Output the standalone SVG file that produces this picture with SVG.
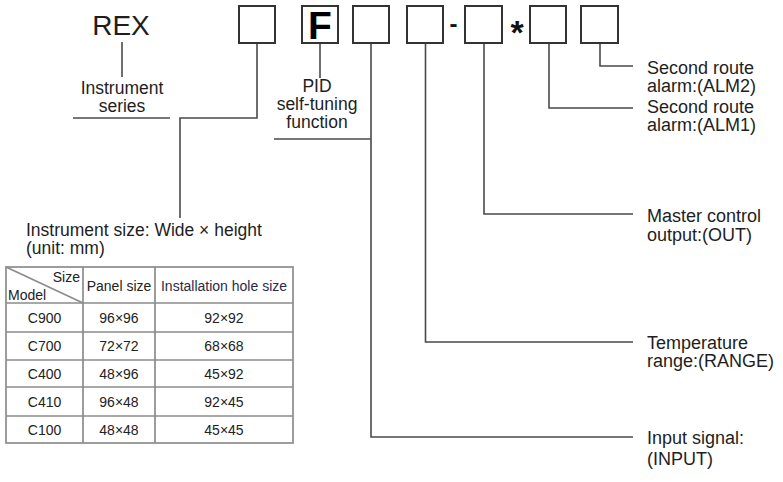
<svg xmlns="http://www.w3.org/2000/svg" width="783" height="482" viewBox="0 0 783 482">
<style>
.t{font-family:"Liberation Sans",Arial,sans-serif;font-size:17.5px;fill:#1e1e1e}
.r{font-size:18px}
.m{text-anchor:middle}
.box{fill:#fff;stroke:#333;stroke-width:2}
.c{fill:none;stroke:#4a4a4a;stroke-width:1.6}
.tb{fill:none;stroke:#8c8c8c;stroke-width:1.7}
.tt{font-family:"Liberation Sans",Arial,sans-serif;font-size:14px;fill:#222;text-anchor:middle}
</style>
<rect width="783" height="482" fill="#fff"/>
<g id="connectors">
<path class="c" d="M122 42V77"/>
<path class="c" d="M73 118H170"/>
<path class="c" d="M257 43V118H180V218"/>
<path class="c" d="M320 43V78"/>
<path class="c" d="M274 139H371"/>
<path class="c" d="M371 43V437H633"/>
<path class="c" d="M425.5 43V342H633"/>
<path class="c" d="M484 43V214H633"/>
<path class="c" d="M549 43V108H633"/>
<path class="c" d="M600 43V66H633"/>
</g>
<g id="rex"><text class="t m" x="121" y="35" style="font-size:28px">REX</text></g>
<g id="box-size"><rect class="box" x="239" y="6" width="36" height="37"/></g>
<g id="box-f"><rect class="box" x="302" y="6" width="36" height="37"/><text class="t m" x="320" y="38.5" style="font-size:39px;font-weight:bold;fill:#000">F</text></g>
<g id="box-input"><rect class="box" x="353" y="6" width="36" height="37"/></g>
<g id="box-range"><rect class="box" x="407" y="6" width="36" height="37"/></g>
<g id="dash"><text class="t m" x="453.5" y="31.5" style="font-size:24px;font-weight:bold;fill:#111">-</text></g>
<g id="box-out"><rect class="box" x="465" y="6" width="37" height="37"/></g>
<g id="star"><text class="t m" x="517" y="44" style="font-size:34px;font-weight:bold;fill:#111">*</text></g>
<g id="box-alm1"><rect class="box" x="530" y="6" width="36" height="37"/></g>
<g id="box-alm2"><rect class="box" x="581" y="6" width="37" height="37"/></g>
<g id="label-series"><text class="t m" x="122" y="94">Instrument</text><text class="t m" x="122" y="112">series</text></g>
<g id="label-pid"><text class="t m" x="317" y="92">PID</text><text class="t m" x="317" y="110">self-tuning</text><text class="t m" x="317" y="128">function</text></g>
<g id="label-size"><text class="t" x="26" y="236">Instrument size: Wide × height</text><text class="t" x="26" y="254">(unit: mm)</text></g>
<g id="label-alm2"><text class="t r" x="647" y="74">Second route</text><text class="t r" x="647" y="92">alarm:(ALM2)</text></g>
<g id="label-alm1"><text class="t r" x="647" y="113">Second route</text><text class="t r" x="647" y="131">alarm:(ALM1)</text></g>
<g id="label-out"><text class="t r" x="647" y="222">Master control</text><text class="t r" x="647" y="241">output:(OUT)</text></g>
<g id="label-range"><text class="t r" x="647" y="349">Temperature</text><text class="t r" x="647" y="367">range:(RANGE)</text></g>
<g id="label-input"><text class="t r" x="647" y="444">Input signal:</text><text class="t r" x="647" y="465">(INPUT)</text></g>
<g id="size-table">
<rect class="tb" x="6" y="267" width="287" height="176"/>
<path class="tb" d="M83 267V443M155 267V443M6 303H293M6 332H293M6 360H293M6 387H293M6 416H293"/>
<path class="tb" d="M6 267L83 303" stroke-width="1"/>
<text class="tt" x="80" y="282" style="text-anchor:end">Size</text>
<text class="tt" x="8" y="300" style="text-anchor:start">Model</text>
<text class="tt" x="119" y="291">Panel size</text>
<text class="tt" x="224" y="291" style="fill:#2a2a48">Installation hole size</text>
<text class="tt" x="44.5" y="323">C900</text><text class="tt" x="119" y="323">96×96</text><text class="tt" x="224" y="323">92×92</text>
<text class="tt" x="44.5" y="351">C700</text><text class="tt" x="119" y="351">72×72</text><text class="tt" x="224" y="351">68×68</text>
<text class="tt" x="44.5" y="379">C400</text><text class="tt" x="119" y="379">48×96</text><text class="tt" x="224" y="379">45×92</text>
<text class="tt" x="44.5" y="407">C410</text><text class="tt" x="119" y="407">96×48</text><text class="tt" x="224" y="407">92×45</text>
<text class="tt" x="44.5" y="435">C100</text><text class="tt" x="119" y="435">48×48</text><text class="tt" x="224" y="435">45×45</text>
</g>
</svg>
